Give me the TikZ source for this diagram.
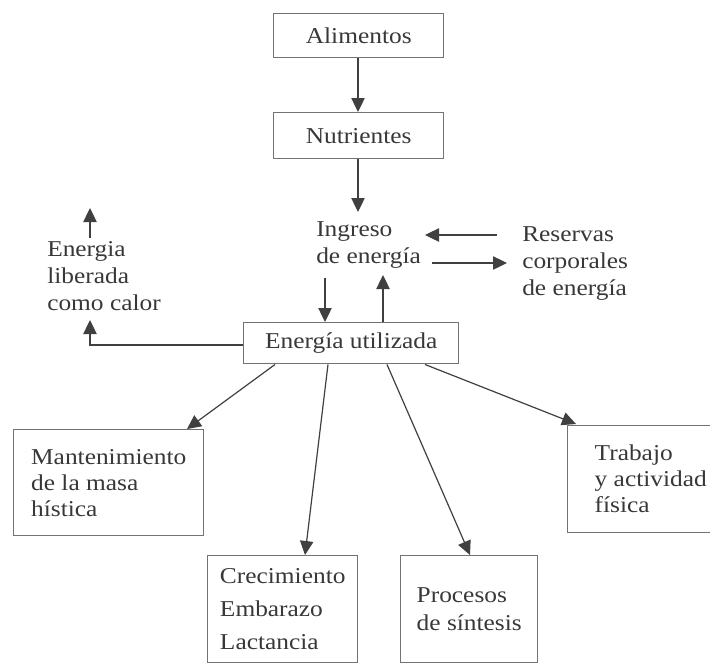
\documentclass[tikz,border=0pt]{standalone}
\usepackage{fontspec}
\setmainfont{Liberation Serif}[FakeStretch=1.12]
\usetikzlibrary{arrows.meta,calc}
\definecolor{boxgray}{gray}{0.45}
\definecolor{lingray}{gray}{0.25}
\definecolor{txtgray}{gray}{0.22}
\begin{document}
\begin{tikzpicture}[x=0.75pt,y=-0.75pt,
  font=\fontsize{17}{20.25}\selectfont,
  box/.style={draw=boxgray, line width=1.1pt, anchor=north west, inner sep=0pt, text=txtgray},
  multibox/.style={box, align=left},
  lbl/.style={inner sep=0pt, align=left, anchor=base west, text=txtgray},
  arr/.style={draw=lingray, line width=0.9pt, -{Triangle[length=10.5pt,width=10pt]}},
  seg/.style={draw=lingray, line width=0.9pt}]
\useasboundingbox (0,0) rectangle (710,665);
\fill[white] (0,0) rectangle (710,665);

% boxes
\node[box, minimum width=127.5pt, minimum height=33pt] (alim) at (273,13) {Alimentos};
\node[box, minimum width=127.5pt, minimum height=34.5pt] (nutr) at (273,112) {Nutrientes};
\node[box, minimum width=161.25pt, minimum height=30.75pt] (util) at (243,322) {Energía utilizada};
\node[multibox, minimum width=142.5pt, minimum height=79.5pt, font=\fontsize{17}{19.5}\selectfont] (mant) at (13,429) {Mantenimiento\\de la masa\\hística};
\node[multibox, minimum width=112.5pt, minimum height=80.25pt, font=\fontsize{17}{24.75}\selectfont] (crec) at (207,555) {Crecimiento\\Embarazo\\Lactancia};
\node[multibox, minimum width=102.75pt, minimum height=80.25pt, font=\fontsize{17}{21}\selectfont] (proc) at (400,555) {Procesos\\de síntesis};
\node[multibox, minimum width=124.5pt, minimum height=80.25pt, font=\fontsize{17}{19.5}\selectfont] (trab) at (567,425) {Trabajo\\y actividad\\física};

% free text (base anchor = baseline of the last line)
\node[lbl] (ing) at (316,263) {Ingreso\\de energía};
\node[lbl, font=\fontsize{17}{19.9}\selectfont] (res) at (522,295) {Reservas\\corporales\\de energía};
\node[lbl] (lib) at (47,310) {Energia\\liberada\\como calor};

% connector ends near free text
\coordinate (ingTop) at (358,212);
\coordinate (ingIn) at (425,235);
\coordinate (ingOutR) at (432,263);
\coordinate (ingDown) at (325,278);
\coordinate (ingUp) at (383,275);
\coordinate (resOut) at (497,235);
\coordinate (resIn) at (507,263);
\coordinate (libBot) at (90,320);
\coordinate (libTop) at (90,238);
\coordinate (libUp) at (90,208);
\coordinate (bend) at (90,345);

% connectors
\draw[arr] (alim.south -| 358,0) -- (nutr.north -| 358,0);
\draw[arr] (nutr.south -| ingTop) -- (ingTop);
\draw[arr] (resOut) -- (ingIn);
\draw[arr] (ingOutR) -- (resIn);
\draw[arr] (ingDown) -- (ingDown |- util.north);
\draw[arr] (ingUp |- util.north) -- (ingUp);
\draw[arr] (util.west |- bend) -- (bend) -- (libBot);
\draw[arr] (libTop) -- (libUp);
\draw[arr] (util.south -| 275,0) -- (mant.north -| 187,0);
\draw[arr] (util.south -| 328,0) -- (crec.north -| 305,0);
\draw[arr] (util.south -| 387,0) -- (proc.north -| 470,0);
\draw[arr] (util.south -| 425,0) -- (576,424);
\end{tikzpicture}
\end{document}
